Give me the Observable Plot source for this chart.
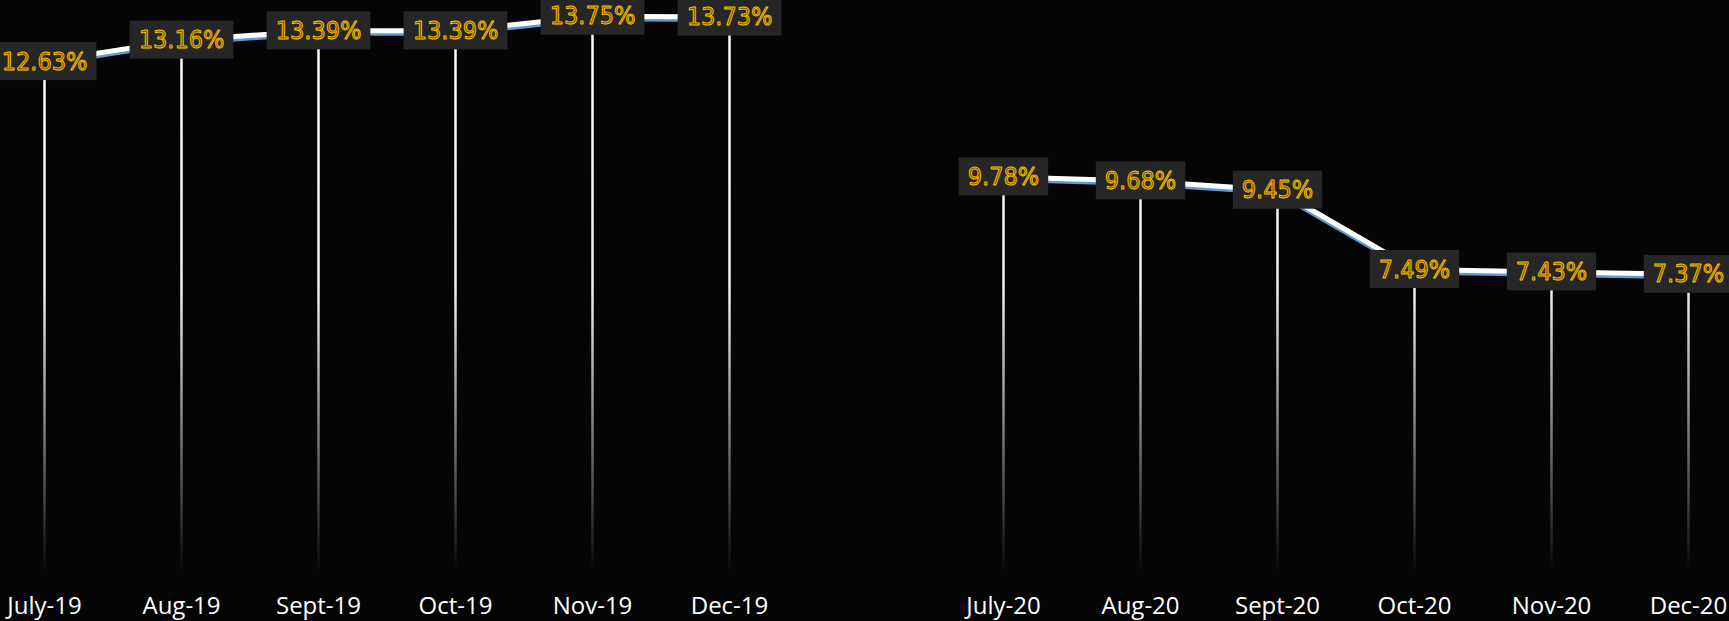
<!DOCTYPE html>
<html>
<head>
<meta charset="utf-8">
<script src="https://cdn.jsdelivr.net/npm/d3@7"></script>
<script src="https://cdn.jsdelivr.net/npm/@observablehq/plot@0.6"></script>
<style>
  html, body { margin: 0; padding: 0; background: #050505; overflow: hidden; }
  #chart { width: 1729px; height: 621px; }
</style>
</head>
<body>
<div id="chart"></div>
<script>
// Data
const categories = ["July-19","Aug-19","Sept-19","Oct-19","Nov-19","Dec-19"," ","July-20","Aug-20","Sept-20","Oct-20","Nov-20","Dec-20"];
const months2019 = ["July-19","Aug-19","Sept-19","Oct-19","Nov-19","Dec-19"];
const values2019 = [12.63, 13.16, 13.39, 13.39, 13.75, 13.73];
const months2020 = ["July-20","Aug-20","Sept-20","Oct-20","Nov-20","Dec-20"];
const values2020 = [9.78, 9.68, 9.45, 7.49, 7.43, 7.37];

const data = [
  ...months2019.map((m, i) => ({month: m, value: values2019[i], period: "2019"})),
  ...months2020.map((m, i) => ({month: m, value: values2020[i], period: "2020"}))
];

const chart = Plot.plot({
  width: 1729,
  height: 621,
  marginTop: 0,
  marginBottom: 49,
  marginLeft: 0,
  marginRight: 0,
  style: {background: "#050505", color: "#ffffff", overflow: "visible"},
  x: {type: "point", domain: categories, range: [39, 1692], padding: 0, label: null},
  y: {domain: [0, 14.14], axis: null},
  marks: [
    Plot.axisX({
      tickSize: 0,
      tickPadding: 24,
      fontSize: 24,
      fontFamily: "'Open Sans', sans-serif",
      fill: "#ffffff",
      label: null
    }),
    Plot.ruleX(data, {x: "month", y1: 0, y2: "value", stroke: "url(#dropfade)", strokeWidth: 2.5}),
    Plot.line(data, {x: "month", y: "value", z: "period", stroke: "#5b9bd5", strokeWidth: 5, dy: 2.5, curve: "linear"}),
    Plot.line(data, {x: "month", y: "value", z: "period", stroke: "#ffffff", strokeWidth: 5, curve: "linear"}),
    Plot.text(data, {
      x: "month", y: "value",
      text: d => d.value.toFixed(2) + "%",
      fontSize: 25,
      fontWeight: "normal",
      fontFamily: "'Liberation Sans Narrow', 'DejaVu Sans Condensed', sans-serif",
      fill: "#6e5200",
      stroke: "#ffc000",
      strokeWidth: 0.9,
      paintOrder: "normal",
      className: "vlabels"
    })
  ]
});

document.getElementById("chart").appendChild(chart);

// gradient for drop lines
const svg = d3.select(chart);
const defs = svg.insert("defs", ":first-child");
const grad = defs.append("linearGradient")
  .attr("id", "dropfade")
  .attr("gradientUnits", "userSpaceOnUse")
  .attr("x1", 0).attr("x2", 0).attr("y1", 0).attr("y2", 572);
grad.append("stop").attr("offset", "0%").attr("stop-color", "#ffffff").attr("stop-opacity", 1);
grad.append("stop").attr("offset", "50%").attr("stop-color", "#f2f2f2").attr("stop-opacity", 1);
grad.append("stop").attr("offset", "100%").attr("stop-color", "#ffffff").attr("stop-opacity", 0);

// label boxes behind text
svg.selectAll("g.vlabels text").each(function() {
  const b = this.getBBox();
  const parent = this.parentNode;
  const rect = document.createElementNS("http://www.w3.org/2000/svg", "rect");
  const cy = b.y + b.height / 2;
  const w = b.width + 18;
  rect.setAttribute("x", b.x + b.width / 2 - w / 2);
  rect.setAttribute("y", cy - 19);
  rect.setAttribute("width", w);
  rect.setAttribute("height", 38);
  rect.setAttribute("fill", "#262626");
  rect.setAttribute("stroke", "none");
  const t = this.getAttribute("transform");
  if (t) rect.setAttribute("transform", t);
  parent.insertBefore(rect, this);
});
</script>
</body>
</html>
